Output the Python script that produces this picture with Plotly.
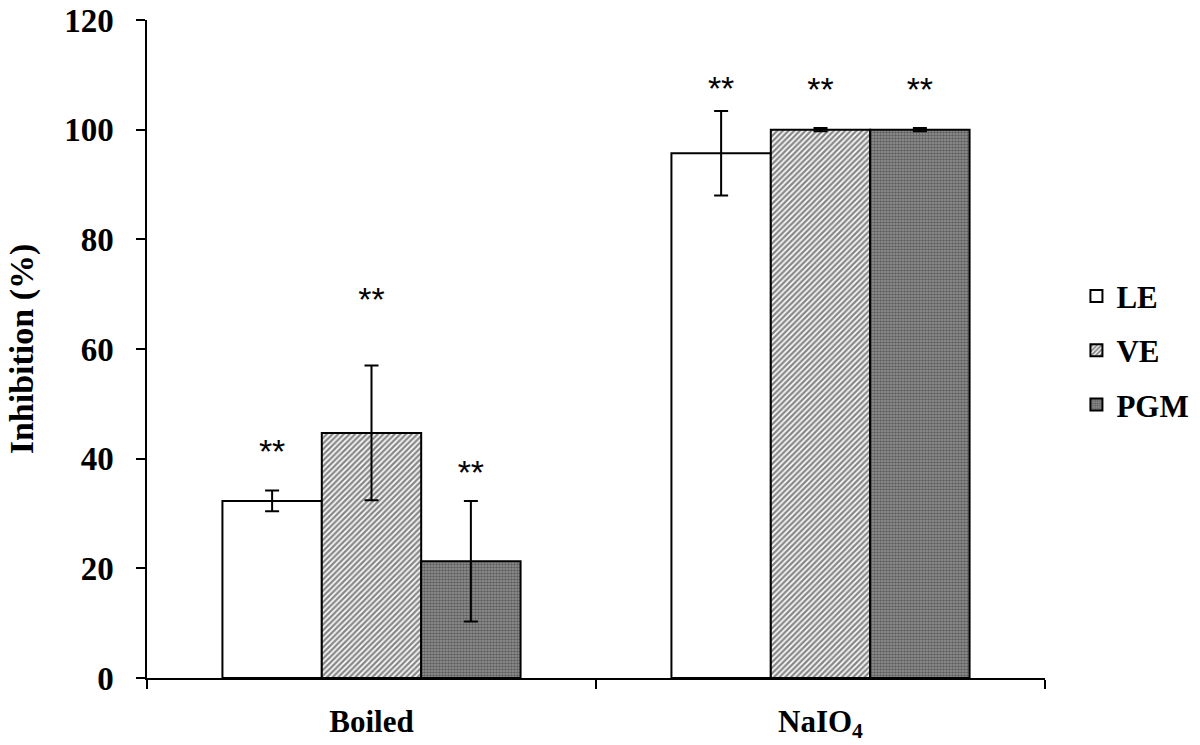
import plotly.graph_objects as go

categories = ["Boiled", "NaIO<sub>4</sub>"]
series = ["LE", "VE", "PGM"]
values = {"LE": [32.3, 95.7], "VE": [44.7, 100.0], "PGM": [21.3, 100.0]}
errors = {"LE": [1.9, 7.7], "VE": [12.3, 0.3], "PGM": [11.0, 0.3]}
star_y = {"LE": [40.7, 107.0], "VE": [68.4, 106.7], "PGM": [37.0, 106.7]}
star_text = ["**", "**"]

styles = {
    "LE": dict(color="white", pattern=dict(shape="")),
    "VE": dict(color="white", pattern=dict(shape="/", fgcolor="#111", bgcolor="white", size=4, solidity=0.6)),
    "PGM": dict(color="#888", pattern=dict(shape=".", fgcolor="#2a2a2a", bgcolor="#959595", size=3, solidity=0.55)),
}

fig = go.Figure()
for i, s in enumerate(series):
    fig.add_trace(go.Bar(
        x=categories, y=values[s], name=s, offsetgroup=s, legendgroup=s,
        marker=dict(color=styles[s]["color"], pattern=styles[s]["pattern"],
                    line=dict(color="black", width=2)),
        error_y=dict(type="data", array=errors[s], color="black", thickness=2, width=7),
    ))
for s in series:
    fig.add_trace(go.Scatter(
        x=categories, y=star_y[s], mode="text", text=star_text, offsetgroup=s,
        showlegend=False, textfont=dict(family="Liberation Sans", size=34, color="black"),
        hoverinfo="skip", cliponaxis=False,
    ))

fig.update_layout(
    width=1200, height=745,
    margin=dict(l=147, r=155, t=20, b=67, autoexpand=False),
    plot_bgcolor="white", paper_bgcolor="white",
    barmode="group", scattermode="group", bargap=0.336, bargroupgap=0,
    showlegend=True,
    legend=dict(x=1.035, y=0.498, yanchor="middle", xanchor="left",
                font=dict(family="Liberation Serif", size=31, color="black", weight="bold"),
                tracegroupgap=11, itemwidth=30),
    font=dict(family="Liberation Serif", color="black"),
)
fig.update_xaxes(
    type="category", tickson="boundaries", ticks="outside", ticklen=9, tickwidth=1.5,
    tickcolor="black", showline=True, linecolor="black", linewidth=1.5,
    tickfont=dict(family="Liberation Serif", size=31, color="black", weight="bold"),
    showgrid=False, automargin=False, ticklabelstandoff=15,
)
fig.update_yaxes(
    range=[0, 120], tickvals=[0, 20, 40, 60, 80, 100, 120], ticks="outside", ticklen=9,
    tickwidth=1.5, tickcolor="black", showline=True, linecolor="black", linewidth=1.5,
    showgrid=False, zeroline=False, automargin=False, ticklabelstandoff=16,
    tickfont=dict(family="Liberation Serif", size=33, color="black", weight="bold"),
    title=dict(text="Inhibition (%)", font=dict(family="Liberation Serif", size=34, color="black", weight="bold"), standoff=20),
)
fig.write_html("out.html", post_script="document.body.style.margin='0';",
               config={"displayModeBar": False})
